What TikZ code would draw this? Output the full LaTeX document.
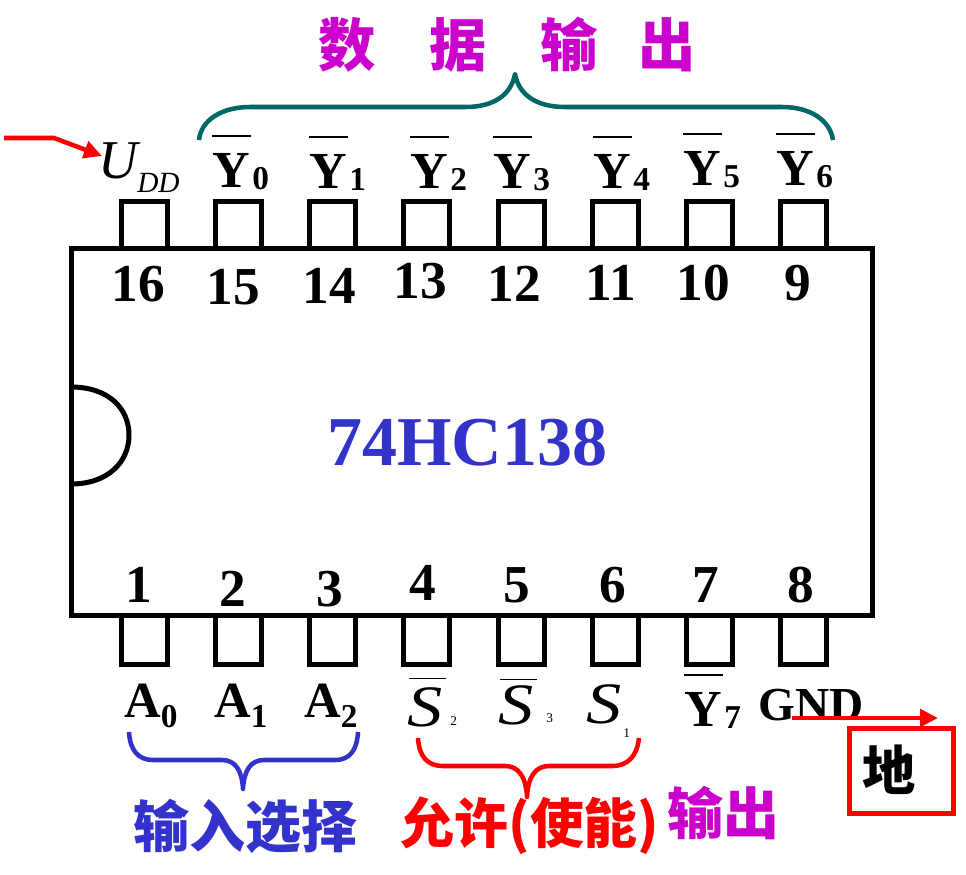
\documentclass[tikz,border=0pt]{standalone}
\usepackage{graphicx}
\usepackage{fontspec}
\setmainfont{Liberation Serif}
\newfontfamily\cjk{Noto Sans CJK SC}
\usetikzlibrary{arrows.meta}
\definecolor{tealbrace}{RGB}{0,102,102}
\definecolor{chipblue}{RGB}{51,51,204}
\definecolor{outmagenta}{RGB}{204,0,204}
\newcommand{\pinnum}{\fontsize{40pt}{40pt}\selectfont\bfseries}
\newcommand{\ybar}[1]{\rlap{\rule[37.5pt]{29pt}{1.8pt}}Y\hspace{2pt}\raisebox{-2pt}{\fontsize{25pt}{25pt}\selectfont #1}}
\newcommand{\sbar}[1]{\rlap{\hspace{1pt}\normalfont\rule[#1]{28pt}{1pt}}}
\newcommand{\wides}{\scalebox{1.2}[1]{S}}
\tikzset{
  chipline/.style={line width=3.75pt,draw=black},
  pintop/.style={chipline,rectangle,minimum width=34.5pt,minimum height=35.25pt,inner sep=0pt},
  pinbot/.style={chipline,rectangle,minimum width=34.5pt,minimum height=36.75pt,inner sep=0pt},
  pinno/.style={anchor=base,inner sep=0pt,font=\pinnum},
  ylab/.style={anchor=base west,inner sep=0pt,font=\fontsize{39pt}{39pt}\selectfont\bfseries},
  alab/.style={anchor=base west,inner sep=0pt,font=\fontsize{38pt}{38pt}\selectfont\bfseries},
  slab/.style={anchor=base west,inner sep=0pt,font=\fontsize{44pt}{44pt}\selectfont\itshape},
  sublab/.style={anchor=base west,inner sep=0pt,font=\fontsize{10pt}{10pt}\selectfont},
  cnlab/.style={inner sep=0pt,font=\fontsize{42pt}{42pt}\selectfont\cjk\bfseries},
  bracepath/.style={line width=3.4pt,line cap=butt,line join=round},
  redarrow/.style={draw=red,line width=3.4pt,-{Triangle[length=13.5pt,width=13pt]}}
}
\begin{document}
\begin{tikzpicture}[x=.75pt,y=-.75pt]
\useasboundingbox (0,0) rectangle (966,874);
\node[chipline,rectangle,minimum width=600.75pt,minimum height=275.25pt,inner sep=0pt] (chip) at (471.5,431.5) {}; %%
\draw[chipline] (71,387) .. controls (108,387) and (129,408) .. (129,435) .. controls (129,462) and (108,484) .. (71,484); %%
\node[font=\fontsize{52.5pt}{52.5pt}\selectfont\bfseries,text=chipblue,inner sep=0pt] (name) at (467,443) {74HC138}; %%
\begin{scope}
\tikzstyle{every node}=[pintop] %%
\node (t16) at (144,225) {}; %%
\node (t15) at (238,225) {}; %%
\node (t14) at (332,225) {}; %%
\node (t13) at (426,225) {}; %%
\node (t12) at (521,225) {}; %%
\node (t11) at (615,225) {}; %%
\node (t10) at (709,225) {}; %%
\node (t9) at (803,225) {}; %%
\end{scope}
\begin{scope}
\tikzstyle{every node}=[pinbot] %%
\node (b1) at (144,640) {}; %%
\node (b2) at (238,640) {}; %%
\node (b3) at (332,640) {}; %%
\node (b4) at (426,640) {}; %%
\node (b5) at (521,640) {}; %%
\node (b6) at (615,640) {}; %%
\node (b7) at (709,640) {}; %%
\node (b8) at (803,640) {}; %%
\end{scope}
\begin{scope}
\tikzstyle{every node}=[pinno] %%
\node (n16) at (138,301) {16}; %%
\node (n15) at (233,304) {15}; %%
\node (n14) at (329,303) {14}; %%
\node (n13) at (420,298) {13}; %%
\node (n12) at (514,301) {12}; %%
\node (n11) at (611,300) {11}; %%
\node (n10) at (703,300) {10}; %%
\node (n9) at (798,300) {9}; %%
\node (n1) at (139,602) {1}; %%
\node (n2) at (233,606) {2}; %%
\node (n3) at (330,606) {3}; %%
\node (n4) at (423,600) {4}; %%
\node (n5) at (517,602) {5}; %%
\node (n6) at (613,602) {6}; %%
\node (n7) at (706,602) {7}; %%
\node (n8) at (801,602) {8}; %%
\end{scope}
\begin{scope}
\tikzstyle{every node}=[ylab] %%
\node (y0) at (212,187) {\ybar{0}}; %%
\node (y1) at (309,188) {\ybar{1}}; %%
\node (y2) at (410,188) {\ybar{2}}; %%
\node (y3) at (493,188) {\ybar{3}}; %%
\node (y4) at (593,188) {\ybar{4}}; %%
\node (y5) at (683,185) {\ybar{5}}; %%
\node (y6) at (776,185) {\ybar{6}}; %%
\node (y7) at (684,726) {\ybar{7}}; %%
\end{scope}
\node[anchor=base west,inner sep=0pt,font=\fontsize{41pt}{41pt}\selectfont\itshape] (udd) at (98,178) {U}; %%
\node[anchor=base west,inner sep=0pt,font=\fontsize{22pt}{22pt}\selectfont\itshape] (dd) at (137,192) {DD}; %%
\begin{scope}
\tikzstyle{every node}=[alab] %%
\node (a0) at (124,717) {A\raisebox{-8pt}{\fontsize{25pt}{25pt}\selectfont 0}}; %%
\node (a1) at (214,717) {A\raisebox{-8pt}{\fontsize{25pt}{25pt}\selectfont 1}}; %%
\node (a2) at (304,717) {A\raisebox{-8pt}{\fontsize{25pt}{25pt}\selectfont 2}}; %%
\end{scope}
\node[slab] (s2) at (407,726) {\sbar{35pt}\wides}; %%
\node[slab] (s3) at (498,724) {\sbar{33pt}\wides}; %%
\node[slab] (s1) at (586,723) {\wides}; %%
\node[sublab] (s2sub) at (450,725) {2}; %%
\node[sublab] (s3sub) at (546,722) {3}; %%
\node[sublab] (s1sub) at (623,737) {1}; %%
\node[anchor=base west,inner sep=0pt,font=\fontsize{35.5pt}{35.5pt}\selectfont\bfseries] (gnd) at (758,720) {GND}; %%
\node[anchor=base west,inner sep=0pt,text=outmagenta,font=\fontsize{43pt}{43pt}\selectfont\cjk\bfseries] (dataout) at (318,66) {数\hspace{40.5pt}据\hspace{40.5pt}输\hspace{30pt}出}; %%
\node[cnlab,text=chipblue] (insel) at (245,826) {输入选择}; %%
\node[cnlab,text=red,font=\fontsize{40.4pt}{40.4pt}\selectfont\cjk\bfseries] (enable) at (530,826) {允许(使能)}; %%
\node[cnlab,text=outmagenta] (y7out) at (723,813) {输出}; %%
\node[draw=red,line width=3.75pt,rectangle,minimum width=78pt,minimum height=63.75pt,inner sep=0pt] (dibox) at (901.5,771) {}; %%
\node[inner sep=0pt,font=\fontsize{40pt}{40pt}\selectfont\cjk\bfseries] (di) at (889,770) {地}; %%
\draw[bracepath,tealbrace] (199,140) .. controls (201,120) and (222,107) .. (250,107) -- (466,107) .. controls (492,107) and (511,96) .. (515,74) .. controls (519,96) and (538,107) .. (565,107) -- (782,107) .. controls (810,107) and (830,120) .. (833,140); %%
\draw[bracepath,chipblue] (129,732) .. controls (130,750) and (138,760) .. (153,760) -- (222,760) .. controls (235,760) and (242,770) .. (243,789) .. controls (244,770) and (251,760) .. (264,760) -- (335,760) .. controls (350,760) and (357,750) .. (358,732); %%
\draw[bracepath,red] (418,738) .. controls (419,756) and (427,766) .. (443,766) -- (505,766) .. controls (518,766) and (526,776) .. (527,797) .. controls (528,776) and (536,766) .. (549,766) -- (612,766) .. controls (628,766) and (637,756) .. (639,738); %%
\coordinate (vccfrom) at (4,138); %%
\coordinate (vccbend) at (54,138); %%
\coordinate (vccend) at (102,156); %%
\coordinate (gndfrom) at (792,718); %%
\coordinate (gndend) at (938,718); %%
\draw[redarrow] (vccfrom)--(vccbend)--(vccend); %%
\draw[redarrow] (gndfrom)--(gndend); %%
\end{tikzpicture}
\end{document}
